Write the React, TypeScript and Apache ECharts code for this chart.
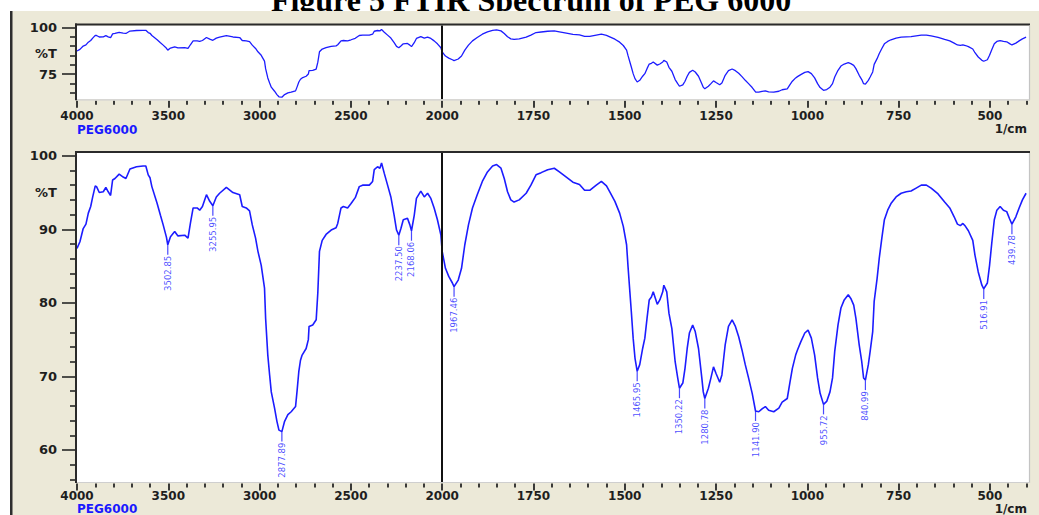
import React, { useEffect, useRef } from "react";
import * as echarts from "echarts";

// ---------- data ----------
const chartTitle = "Figure 5 FTIR Spectrum of PEG 6000";
const sampleName = "PEG6000";
const unitLabel = "1/cm";
const yAxisName = "%T";
const splitWavenumber = 2000;

const wavenumbers = [
  4000, 3984, 3966, 3951, 3938, 3925, 3914, 3900, 3893, 3878, 3856, 3842, 3829, 3816, 3805, 3792, 3769, 3747, 3732, 3710,
  3674, 3638, 3623, 3610, 3600, 3590, 3561, 3543, 3528, 3510, 3502.85, 3488, 3465, 3447, 3410, 3392, 3379, 3364, 3342, 3328,
  3313, 3291, 3273, 3255.95, 3237, 3219, 3182, 3146, 3109, 3095, 3073, 3055, 3040, 3022, 3009, 2991, 2973, 2967, 2955, 2945,
  2936, 2918, 2905, 2894, 2877.89, 2863, 2845, 2827, 2803, 2794, 2785, 2776, 2767, 2745, 2733, 2729, 2709, 2690, 2681, 2672,
  2657, 2636, 2608, 2581, 2572, 2554, 2541, 2518, 2499, 2476, 2454, 2436, 2399, 2381, 2372, 2354, 2341, 2332, 2317, 2299,
  2281, 2263, 2250, 2237.5, 2226, 2213, 2190, 2177, 2168.06, 2153, 2141, 2117, 2098, 2080, 2062, 2044, 2026, 2007, 2000, 1991,
  1982, 1972, 1967.46, 1956, 1947, 1938, 1928, 1917, 1904, 1890, 1876, 1862, 1851, 1839, 1830, 1821, 1812, 1803, 1789, 1770,
  1757, 1743, 1729, 1711, 1693, 1679, 1660, 1642, 1624, 1610, 1596, 1578, 1564, 1550, 1541, 1527, 1514, 1504, 1495, 1491,
  1486, 1482, 1477, 1472, 1465.95, 1459, 1451, 1445, 1439, 1433, 1427, 1422, 1411, 1404, 1396, 1393, 1385, 1379, 1371, 1362,
  1355, 1350.22, 1341, 1335, 1329, 1323, 1314, 1307, 1298, 1289, 1285, 1280.78, 1271, 1264, 1257, 1250, 1240, 1234, 1229, 1225,
  1216, 1206, 1197, 1188, 1179, 1170, 1161, 1151, 1141.9, 1133, 1124, 1115, 1106, 1092, 1078, 1069, 1055, 1048, 1041, 1032,
  1027, 1018, 1007, 998, 989, 980, 972, 965, 955.72, 947, 938, 931, 925, 916, 908, 899, 888, 881, 873, 867,
  858, 851, 846, 840.99, 833, 828, 821, 817, 809, 803, 796, 789, 780, 771, 757, 743, 729, 716, 702, 688,
  674, 661, 642, 624, 610, 598, 589, 581, 574, 567, 559, 547, 541, 532, 522, 516.91, 507, 501, 495, 488,
  481, 472, 463, 454, 446, 439.78, 429, 420, 411, 401,
];

const transmittance = [
  87.4, 88.3, 90.1, 90.7, 92.2, 93.1, 94.4, 95.9, 95.8, 95.0, 95.1, 95.7, 95.1, 94.6, 96.7, 96.9, 97.5, 97.1, 96.9, 98.2,
  98.5, 98.6, 98.6, 97.4, 97.0, 95.8, 93.5, 91.9, 90.6, 88.9, 87.9, 89.0, 89.7, 89.1, 89.2, 88.8, 90.8, 92.9, 92.9, 92.6,
  93.1, 94.7, 93.8, 93.2, 94.4, 94.9, 95.7, 95.0, 94.7, 93.1, 92.9, 92.5, 90.6, 88.8, 87.0, 85.1, 82.0, 77.9, 72.9, 70.2,
  67.9, 65.7, 63.9, 62.7, 62.5, 63.9, 64.8, 65.2, 65.9, 68.2, 70.7, 72.2, 72.9, 73.8, 75.0, 76.8, 77.0, 77.7, 81.4, 87.0,
  88.5, 89.3, 89.9, 90.2, 90.8, 92.9, 93.1, 92.9, 93.5, 94.3, 95.8, 96.0, 96.0, 96.5, 98.1, 98.5, 98.3, 99.0, 97.6, 96.0,
  94.4, 91.9, 89.9, 89.2, 90.1, 91.3, 91.5, 90.6, 89.8, 91.9, 94.2, 95.2, 94.4, 94.9, 94.2, 92.9, 91.3, 89.2, 87.0, 84.7,
  83.6, 82.7, 82.2, 83.1, 84.7, 87.9, 90.6, 92.9, 94.7, 96.5, 97.8, 98.6, 98.8, 98.3, 96.9, 95.1, 94.0, 93.7, 94.0, 94.9,
  96.0, 97.4, 97.7, 98.1, 98.3, 97.8, 97.1, 96.4, 96.1, 95.3, 95.3, 96.0, 96.5, 95.9, 95.1, 93.8, 92.2, 90.4, 87.9, 84.9,
  81.5, 78.8, 75.2, 72.5, 70.7, 71.6, 73.8, 75.2, 77.9, 80.4, 80.8, 81.5, 79.8, 80.4, 81.5, 82.4, 81.5, 78.6, 76.5, 72.0,
  69.8, 68.4, 69.1, 71.1, 73.8, 75.9, 77.0, 76.1, 73.8, 69.8, 67.9, 67.0, 68.4, 69.8, 71.3, 70.4, 69.2, 70.2, 72.5, 74.3,
  76.8, 77.7, 76.8, 75.4, 73.6, 71.6, 69.8, 67.7, 65.3, 65.2, 65.6, 65.9, 65.4, 65.2, 65.7, 66.5, 67.0, 69.1, 71.1, 72.9,
  73.6, 74.7, 75.9, 76.3, 75.2, 72.9, 69.8, 67.7, 66.2, 66.6, 67.9, 69.8, 73.4, 77.0, 79.3, 80.4, 81.1, 80.6, 79.7, 77.9,
  74.3, 72.0, 69.8, 69.5, 71.6, 73.4, 76.1, 80.2, 83.3, 86.1, 88.8, 91.3, 92.6, 93.5, 94.4, 94.9, 95.1, 95.2, 95.6, 96.0,
  96.0, 95.6, 94.8, 93.7, 92.9, 91.7, 90.7, 90.5, 90.8, 90.4, 89.8, 88.5, 86.5, 84.2, 82.4, 81.9, 82.7, 85.1, 88.1, 91.3,
  92.6, 93.1, 92.6, 92.4, 91.4, 90.7, 91.7, 92.9, 94.0, 94.9,
];

const peakWavenumbers = [3502.85, 3255.95, 2877.89, 2237.5, 2168.06, 1967.46, 1465.95, 1350.22, 1280.78, 1141.9, 955.72, 840.99, 516.91, 439.78];
const peakTransmittance = [87.9, 93.2, 62.5, 89.2, 89.8, 82.2, 70.7, 68.4, 67.0, 65.3, 66.2, 69.5, 81.9, 90.7];
const peakLabels = ["3502.85", "3255.95", "2877.89", "2237.50", "2168.06", "1967.46", "1465.95", "1350.22", "1280.78", "1141.90", "955.72", "840.99", "516.91", "439.78"];

const xTickWavenumbers = [4000, 3500, 3000, 2500, 2000, 1750, 1500, 1250, 1000, 750, 500];
const mainYTicks = [60, 70, 80, 90, 100];
const mainYNameAt = 95;
const overviewYTicks = [75, 100];
const overviewYNameAt = 86;

// ---------- piecewise wavenumber scale (4000-2000 compressed x2) ----------
const toU = (wn: number) => (wn >= splitWavenumber ? (4000 - wn) / 2 : 1000 + (splitWavenumber - wn));
const fromU = (u: number) => (u <= 1000 ? 4000 - 2 * u : splitWavenumber - (u - 1000));
const U_MAX = 2607;

// ---------- layout ----------
const PLOT_LEFT = 77;
const PLOT_RIGHT = 1029;
const TOP_PANEL = { top: 25.5, bottom: 99.3, min: 61.35, max: 101.2 };
const MAIN_PANEL = { top: 153, bottom: 482, min: 55.65, max: 100.37 };
const FONT = "DejaVu Sans";
const AXIS_COLOR = "#262626";
const LINE_BLUE = "#1c1cff";

export default function App() {
  const ref = useRef<HTMLDivElement>(null);

  useEffect(() => {
    if (!ref.current) return;
    const chart = echarts.init(ref.current, null, { renderer: "svg" });

    const spectrum = wavenumbers.map((w, i) => [toU(w), transmittance[i]]);
    const peaks = peakWavenumbers.map((w, i) => [toU(w), peakTransmittance[i]]);
    const xTickU = xTickWavenumbers.map(toU);

    const yLabelFont = { fontFamily: FONT, fontSize: 13, fontWeight: "bold" as const, color: "#1e1e1e" };
    const xLabelFont = { fontFamily: FONT, fontSize: 12, fontWeight: "bold" as const, color: "#1e1e1e", lineHeight: 12 };

    const makeXAxis = (gridIndex: number, margin: number) => ({
      type: "value",
      gridIndex,
      min: 0,
      max: U_MAX,
      interval: 250,
      position: "bottom",
      offset: 1.5,
      axisLine: { show: false },
      axisTick: { show: true, customValues: xTickU, length: 7, lineStyle: { color: AXIS_COLOR, width: 1.8 } },
      minorTick: { show: true, splitNumber: 5, length: 4, lineStyle: { color: AXIS_COLOR, width: 1.8 } },
      axisLabel: {
        show: true,
        customValues: xTickU,
        formatter: (v: number) => String(Math.round(fromU(v))),
        margin,
        ...xLabelFont,
      },
      splitLine: { show: false },
    });

    const makeYAxis = (
      gridIndex: number,
      p: { min: number; max: number },
      step: number,
      ticks: number[],
      nameAt: number,
    ) => ({
      type: "value",
      gridIndex,
      min: p.min,
      max: p.max,
      minInterval: step,
      maxInterval: step,
      position: "left",
      offset: 1,
      axisLine: { show: false },
      axisTick: { show: true, customValues: ticks, length: 15, lineStyle: { color: AXIS_COLOR, width: 1.6 } },
      minorTick: { show: true, splitNumber: 5, length: 7, lineStyle: { color: AXIS_COLOR, width: 1.6 } },
      axisLabel: {
        show: true,
        customValues: [...ticks, nameAt].sort((a, b) => a - b),
        formatter: (v: number) => (v === nameAt ? yAxisName : String(v)),
        margin: 19,
        ...yLabelFont,
      },
      splitLine: { show: false },
    });

    const splitMark = {
      silent: true,
      symbol: ["none", "none"],
      label: { show: false },
      emphasis: { disabled: true },
      lineStyle: { color: "#111", width: 2, type: "solid" },
      data: [{ xAxis: toU(splitWavenumber) }],
    };

    const frame = (p: { top: number; bottom: number }) => [
      { type: "line", z: 50, shape: { x1: 75, y1: p.top - 1, x2: PLOT_RIGHT + 1, y2: p.top - 1 }, style: { stroke: "#2a2a2a", lineWidth: 2 } },
      { type: "line", z: 50, shape: { x1: 76, y1: p.top - 2, x2: 76, y2: p.bottom + 1 }, style: { stroke: "#2a2a2a", lineWidth: 2 } },
      { type: "line", z: 50, shape: { x1: PLOT_RIGHT + 0.5, y1: p.top, x2: PLOT_RIGHT + 0.5, y2: p.bottom + 1 }, style: { stroke: "#c4c4c4", lineWidth: 1.2 } },
      { type: "line", z: 50, shape: { x1: 77, y1: p.bottom + 0.5, x2: PLOT_RIGHT + 1, y2: p.bottom + 0.5 }, style: { stroke: "#cfcfcf", lineWidth: 1.2 } },
    ];

    const smallText = (x: number, y: number, text: string, color: string, align: string) => ({
      type: "text",
      x,
      y,
      z: 60,
      style: { text, fill: color, fontFamily: FONT, fontSize: 12, fontWeight: "bold", lineHeight: 12, align, verticalAlign: "middle" },
    });

    chart.setOption({
      animation: false,
      backgroundColor: "#ffffff",
      textStyle: { fontFamily: FONT },
      grid: [
        { left: PLOT_LEFT, top: TOP_PANEL.top, width: PLOT_RIGHT - PLOT_LEFT, height: TOP_PANEL.bottom - TOP_PANEL.top, show: true, backgroundColor: "#ffffff", borderWidth: 0 },
        { left: PLOT_LEFT, top: MAIN_PANEL.top, width: PLOT_RIGHT - PLOT_LEFT, height: MAIN_PANEL.bottom - MAIN_PANEL.top, show: true, backgroundColor: "#ffffff", borderWidth: 0 },
      ],
      xAxis: [makeXAxis(0, 9), makeXAxis(1, 6.5)],
      yAxis: [
        makeYAxis(0, TOP_PANEL, 25, overviewYTicks, overviewYNameAt),
        makeYAxis(1, MAIN_PANEL, 10, mainYTicks, mainYNameAt),
      ],
      series: [
        {
          type: "line",
          xAxisIndex: 0,
          yAxisIndex: 0,
          data: spectrum,
          showSymbol: false,
          silent: true,
          lineStyle: { color: LINE_BLUE, width: 1.3 },
          markLine: splitMark,
          z: 3,
        },
        {
          type: "line",
          xAxisIndex: 1,
          yAxisIndex: 1,
          data: spectrum,
          showSymbol: false,
          silent: true,
          lineStyle: { color: LINE_BLUE, width: 1.6 },
          markLine: splitMark,
          z: 3,
        },
        {
          type: "scatter",
          xAxisIndex: 1,
          yAxisIndex: 1,
          data: peaks,
          symbol: "rect",
          symbolSize: [1.2, 10],
          symbolOffset: [0, 5],
          itemStyle: { color: LINE_BLUE },
          silent: true,
          z: 4,
          label: {
            show: true,
            formatter: (p: any) => peakLabels[p.dataIndex],
            position: "bottom",
            distance: 1,
            rotate: 90,
            align: "right",
            verticalAlign: "middle",
            fontFamily: FONT,
            fontSize: 8.5,
            color: LINE_BLUE,
          },
        },
      ],
      graphic: [
        {
          type: "text",
          x: 531,
          y: 0,
          z: -20,
          style: { text: chartTitle, fill: "#000", fontFamily: "Liberation Serif", fontSize: 32, fontWeight: "bold", align: "center", verticalAlign: "middle" },
        },
        { type: "rect", z: -10, shape: { x: 12, y: 11, width: 1027, height: 504 }, style: { fill: "#ECE9D8" } },
        { type: "rect", z: -5, shape: { x: 10, y: 11, width: 2.5, height: 504 }, style: { fill: "#2e2e2e" } },
        ...frame(TOP_PANEL),
        ...frame(MAIN_PANEL),
        smallText(PLOT_LEFT, 129.5, sampleName, "#1a1aff", "left"),
        smallText(1027, 129, unitLabel, "#1e1e1e", "right"),
        smallText(PLOT_LEFT, 509.3, sampleName, "#1a1aff", "left"),
        smallText(1027, 508.8, unitLabel, "#1e1e1e", "right"),
      ],
    });

    return () => chart.dispose();
  }, []);

  return <div ref={ref} style={{ position: "absolute", left: 0, top: 0, width: 1039, height: 515 }} />;
}
